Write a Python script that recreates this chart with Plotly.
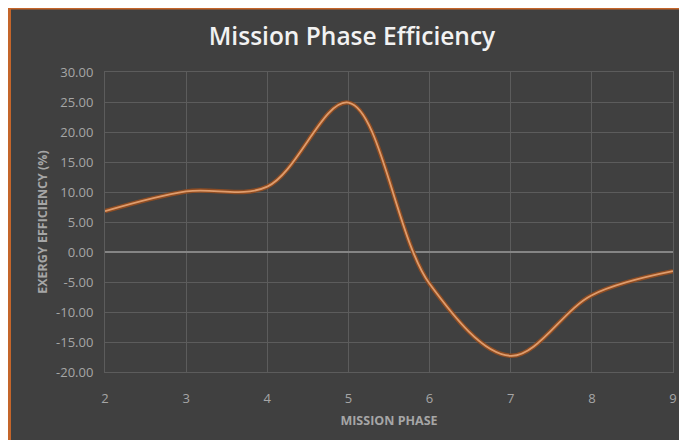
import plotly.graph_objects as go

phases = [2, 3, 4, 5, 6, 7, 8, 9]
efficiency = [6.8, 10.1, 10.9, 24.9, -5.3, -17.3, -7.2, -3.2]
y_ticks = [30, 25, 20, 15, 10, 5, 0, -5, -10, -15, -20]
y_tick_labels = [f"{v:.2f}" for v in y_ticks]

# page has an 8px body margin, so figure coords = page coords - 8
L, R, T, B = 97, 22, 64, 76
W, H = 687, 440
pw, ph = W - L - R, H - T - B

def px(x):
    return (x - L) / pw

def py(y):
    return (H - B - y) / ph

fig = go.Figure()
fig.add_trace(go.Scatter(
    x=phases, y=efficiency, mode="lines",
    line=dict(color="#8e4c22", width=4.5, shape="spline", smoothing=1.0),
    hoverinfo="skip", showlegend=False))
fig.add_trace(go.Scatter(
    x=phases, y=efficiency, mode="lines",
    line=dict(color="#df9c6c", width=1.8, shape="spline", smoothing=1.0),
    showlegend=False))

fig.update_layout(
    width=W, height=H,
    margin=dict(l=L, r=R, t=T, b=B),
    paper_bgcolor="#404040",
    plot_bgcolor="#404040",
    font=dict(family="Open Sans, Lato, sans-serif", color="#a6a6a6", size=12),
    title=dict(text="Mission Phase Efficiency", x=(352 - 8) / W, xanchor="center",
               y=1 - 28 / H, yanchor="middle",
               font=dict(size=24.5, color="#f2f2f2", family="Open Sans, sans-serif", weight=600)),
    shapes=[
        dict(type="line", xref="paper", yref="paper", layer="above",
             x0=px(0), x1=px(W), y0=py(0.5), y1=py(0.5),
             line=dict(color="#c4652a", width=2)),
        dict(type="line", xref="paper", yref="paper", layer="above",
             x0=px(1.5), x1=px(1.5), y0=py(0), y1=py(H),
             line=dict(color="#c4652a", width=3)),
    ],
)

fig.update_xaxes(
    range=[2, 9], tickvals=phases, ticktext=[str(p) for p in phases],
    showgrid=True, gridcolor="#5c5c5c", gridwidth=1,
    showline=True, linecolor="#5c5c5c", mirror=True,
    zeroline=False, ticks="", tickfont=dict(size=13, color="#a6a6a6"),
    ticklabelstandoff=14,
    title=dict(text="<b>MISSION PHASE</b>", font=dict(size=12.5, color="#a6a6a6"), standoff=10),
)
fig.update_yaxes(
    range=[-20, 30], tickvals=y_ticks, ticktext=y_tick_labels,
    showgrid=True, gridcolor="#5c5c5c", gridwidth=1,
    showline=True, linecolor="#5c5c5c", mirror=True,
    zeroline=True, zerolinecolor="#858585", zerolinewidth=1.5,
    ticks="", tickfont=dict(size=13, color="#a6a6a6"),
    ticklabelstandoff=8,
    title=dict(text="<b>EXERGY EFFICIENCY (%)</b>", font=dict(size=12.5, color="#a6a6a6"), standoff=5),
)

fig.write_html("out.html")
